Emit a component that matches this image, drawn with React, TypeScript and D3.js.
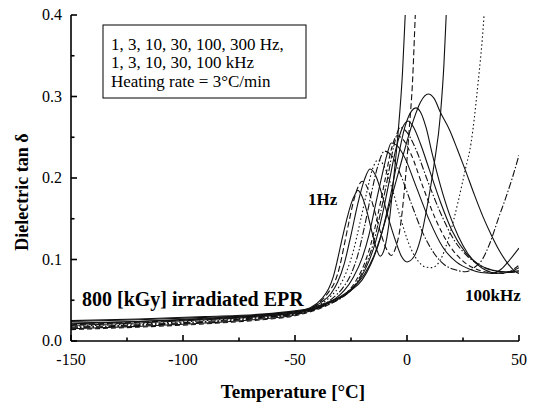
import React from "react";
import * as d3 from "d3";

// Loss tangent vs temperature, one curve per measuring frequency.
const FREQUENCIES = ["1 Hz", "3 Hz", "10 Hz", "30 Hz", "100 Hz", "300 Hz", "1 kHz", "3 kHz", "10 kHz", "30 kHz", "100 kHz"];

const X_TICKS = [-150, -100, -50, 0, 50];
const Y_TICKS = [0, 0.1, 0.2, 0.3, 0.4];

// [temperature °C, tan δ]
const tan1Hz: [number, number][] = [
  [-150, 0.024], [-120, 0.026], [-90, 0.029], [-65, 0.032], [-50, 0.036], [-43, 0.041], [-38, 0.052],
  [-35, 0.064], [-33, 0.078], [-31, 0.1], [-29, 0.125], [-27, 0.148], [-25, 0.168], [-23, 0.181],
  [-22, 0.185], [-20.5, 0.18], [-18, 0.16], [-15.5, 0.132], [-13.5, 0.112], [-12, 0.104], [-10, 0.114],
  [-8, 0.145], [-6, 0.198], [-4, 0.255], [-2, 0.33], [-0.8, 0.4], [0, 0.45],
];
const tan3Hz: [number, number][] = [
  [-150, 0.02], [-120, 0.023], [-90, 0.027], [-65, 0.031], [-50, 0.035], [-43, 0.04], [-38, 0.05],
  [-35, 0.06], [-32, 0.074], [-30, 0.092], [-28, 0.118], [-26, 0.145], [-24, 0.17], [-22, 0.188],
  [-20, 0.196], [-18, 0.19], [-15, 0.165], [-12, 0.135], [-9, 0.112], [-7, 0.105], [-5, 0.115],
  [-3, 0.14], [-1, 0.19], [1, 0.26], [2.5, 0.32], [3.7, 0.4], [4.5, 0.45],
];
const tan10Hz: [number, number][] = [
  [-150, 0.022], [-120, 0.024], [-90, 0.027], [-65, 0.031], [-50, 0.035], [-43, 0.04], [-38, 0.048],
  [-34, 0.058], [-31, 0.072], [-28, 0.095], [-25, 0.13], [-22, 0.168], [-19, 0.198], [-16.5, 0.211],
  [-14, 0.203], [-11, 0.178], [-8, 0.148], [-5, 0.122], [-2.5, 0.104], [0, 0.097], [3, 0.103],
  [6, 0.125], [9, 0.165], [12, 0.215], [15, 0.28], [16.5, 0.34], [17.5, 0.4], [18.3, 0.45],
];
const tan30Hz: [number, number][] = [
  [-150, 0.018], [-120, 0.021], [-90, 0.025], [-65, 0.03], [-50, 0.034], [-43, 0.039], [-38, 0.046],
  [-34, 0.055], [-30, 0.068], [-27, 0.085], [-24, 0.11], [-21, 0.145], [-18, 0.182], [-15.5, 0.21],
  [-13, 0.222], [-10.5, 0.216], [-7, 0.19], [-3, 0.152], [1, 0.118], [5, 0.098], [8, 0.091],
  [11, 0.09], [15, 0.1], [19, 0.13], [23, 0.173], [26, 0.21], [28.6, 0.243], [31.4, 0.308],
  [34.4, 0.4], [35.5, 0.45],
];
const tan100Hz: [number, number][] = [
  [-150, 0.016], [-120, 0.019], [-90, 0.023], [-65, 0.028], [-50, 0.033], [-43, 0.038], [-37, 0.045],
  [-33, 0.053], [-29, 0.064], [-25, 0.082], [-22, 0.105], [-19, 0.14], [-16, 0.18], [-13, 0.215],
  [-10, 0.233], [-7, 0.228], [-3, 0.205], [2, 0.168], [7, 0.133], [12, 0.108], [17, 0.093],
  [22, 0.087], [26, 0.085], [30, 0.09], [33.6, 0.1], [37, 0.12], [41, 0.152], [44, 0.175],
  [47, 0.2], [50, 0.228],
];
const tan300Hz: [number, number][] = [
  [-150, 0.015], [-120, 0.018], [-90, 0.022], [-65, 0.027], [-50, 0.032], [-43, 0.037], [-37, 0.044],
  [-32, 0.052], [-28, 0.062], [-24, 0.078], [-20, 0.102], [-17, 0.13], [-14, 0.168], [-11, 0.205],
  [-9, 0.228], [-7, 0.243], [-4.5, 0.24], [-1, 0.225], [4, 0.19], [10, 0.148], [16, 0.115],
  [22, 0.097], [28, 0.088], [33, 0.084], [38, 0.083], [42, 0.088], [46, 0.1], [50, 0.114],
];
const tan1kHz: [number, number][] = [
  [-150, 0.014], [-120, 0.017], [-90, 0.021], [-65, 0.026], [-50, 0.031], [-43, 0.036], [-37, 0.042],
  [-32, 0.049], [-27, 0.059], [-23, 0.073], [-19, 0.095], [-16, 0.12], [-13, 0.155], [-10, 0.195],
  [-7, 0.235], [-4.5, 0.252], [-2, 0.248], [2, 0.228], [7, 0.19], [13, 0.148], [19, 0.117],
  [25, 0.098], [31, 0.088], [37, 0.084], [43, 0.083], [47, 0.087], [50, 0.093],
];
const tan3kHz: [number, number][] = [
  [-150, 0.017], [-120, 0.02], [-90, 0.024], [-65, 0.029], [-50, 0.033], [-43, 0.037], [-37, 0.043],
  [-31, 0.05], [-26, 0.06], [-22, 0.074], [-18, 0.096], [-15, 0.12], [-12, 0.155], [-9, 0.195],
  [-6, 0.238], [-3, 0.262], [0, 0.256], [4, 0.235], [9, 0.198], [15, 0.157], [21, 0.124],
  [27, 0.104], [33, 0.092], [39, 0.086], [45, 0.084], [50, 0.085],
];
const tan10kHz: [number, number][] = [
  [-150, 0.019], [-120, 0.022], [-90, 0.026], [-65, 0.03], [-50, 0.034], [-43, 0.038], [-37, 0.044],
  [-31, 0.051], [-25, 0.062], [-21, 0.076], [-17, 0.098], [-14, 0.122], [-11, 0.155], [-8, 0.195],
  [-5, 0.235], [-2, 0.262], [0.5, 0.27], [3, 0.262], [6, 0.242], [10, 0.21], [15, 0.17],
  [20, 0.136], [26, 0.109], [32, 0.094], [38, 0.087], [44, 0.085], [50, 0.086],
];
const tan30kHz: [number, number][] = [
  [-150, 0.021], [-120, 0.024], [-90, 0.028], [-65, 0.032], [-50, 0.036], [-43, 0.039], [-37, 0.045],
  [-31, 0.052], [-25, 0.062], [-20, 0.075], [-16, 0.095], [-12, 0.125], [-8, 0.17], [-4, 0.225],
  [-1, 0.262], [2, 0.282], [4, 0.286], [6, 0.281], [8.5, 0.262], [11.4, 0.228], [15, 0.19],
  [19, 0.155], [23, 0.128], [27, 0.108], [31, 0.095], [35, 0.087], [40, 0.083], [45, 0.084], [50, 0.09],
];
const tan100kHz: [number, number][] = [
  [-150, 0.025], [-120, 0.027], [-90, 0.03], [-65, 0.033], [-50, 0.037], [-43, 0.04], [-37, 0.046],
  [-30, 0.054], [-24, 0.066], [-19, 0.082], [-15, 0.103], [-11, 0.135], [-7, 0.175], [-3.5, 0.21],
  [0, 0.245], [3, 0.272], [6, 0.293], [9.5, 0.303], [12, 0.298], [15, 0.28], [19, 0.259],
  [22.5, 0.235], [26, 0.21], [30, 0.18], [34, 0.152], [38, 0.128], [41, 0.112], [45, 0.095],
  [49, 0.084], [50, 0.083],
];

const SERIES = [tan1Hz, tan3Hz, tan10Hz, tan30Hz, tan100Hz, tan300Hz, tan1kHz, tan3kHz, tan10kHz, tan30kHz, tan100kHz];

// stroke-dasharray per curve
const DASHES = ["none", "6,3", "none", "1.5,2.5", "7,2,1.5,2", "none", "5,3", "7,2,1.5,2", "none", "none", "none"];

const W = 534;
const H = 408;
const M = { left: 71, right: 519, top: 15, bottom: 341 };
const SERIF = "'Liberation Serif', 'Times New Roman', Times, serif";

export default function App() {
  const x = d3.scaleLinear().domain([-150, 50]).range([M.left, M.right]);
  const y = d3.scaleLinear().domain([0, 0.4]).range([M.bottom, M.top]);
  const line = d3
    .line<[number, number]>()
    .x((d) => x(d[0]))
    .y((d) => y(d[1]))
    .curve(d3.curveMonotoneX);

  const xMinor = d3.range(-125, 50, 50);
  const yMinor = d3.range(0.05, 0.4, 0.1);

  return (
    <svg
      width={W}
      height={H}
      viewBox={`0 0 ${W} ${H}`}
      style={{ position: "absolute", left: 0, top: 0, background: "#fff" }}
      fontFamily={SERIF}
    >
      <defs>
        <clipPath id="plot">
          <rect x={M.left} y={M.top} width={M.right - M.left} height={M.bottom - M.top} />
        </clipPath>
      </defs>

      <g clipPath="url(#plot)" fill="none" stroke="#111" strokeWidth={1.1}>
        {SERIES.map((s, i) => (
          <path key={FREQUENCIES[i]} d={line(s) || ""} strokeDasharray={DASHES[i]} />
        ))}
      </g>

      {/* axes */}
      <g stroke="#000" strokeWidth={1.6} fill="none">
        <line x1={M.left} y1={M.top} x2={M.left} y2={M.bottom} />
        <line x1={M.left} y1={M.bottom} x2={M.right} y2={M.bottom} />
        {X_TICKS.map((t) => (
          <line key={"xt" + t} x1={x(t)} x2={x(t)} y1={M.bottom} y2={M.bottom - 6} />
        ))}
        {xMinor.map((t) => (
          <line key={"xm" + t} x1={x(t)} x2={x(t)} y1={M.bottom} y2={M.bottom - 3.5} />
        ))}
        {Y_TICKS.map((t) => (
          <line key={"yt" + t} x1={M.left} x2={M.left + 6} y1={y(t)} y2={y(t)} />
        ))}
        {yMinor.map((t) => (
          <line key={"ym" + t} x1={M.left} x2={M.left + 3.5} y1={y(t)} y2={y(t)} />
        ))}
      </g>

      <g fontSize={16} fill="#000">
        {X_TICKS.map((t) => (
          <text key={"xl" + t} x={x(t)} y={365} textAnchor="middle">
            {t}
          </text>
        ))}
        {Y_TICKS.map((t) => (
          <text key={"yl" + t} x={62} y={y(t) + 5} textAnchor="end">
            {t.toFixed(1)}
          </text>
        ))}
      </g>

      {/* axis titles */}
      <text x={293} y={398} textAnchor="middle" fontWeight="bold" fontSize={19}>
        Temperature [°C]
      </text>
      <text
        transform={`translate(28,192) rotate(-90)`}
        textAnchor="middle"
        fontWeight="bold"
        fontSize={18}
      >
        Dielectric tan δ
      </text>

      {/* legend box */}
      <rect x={103} y={25} width={203} height={73} fill="#fff" stroke="#000" strokeWidth={1} />
      <g fontSize={17}>
        <text x={111} y={50}>1, 3, 10, 30, 100, 300 Hz,</text>
        <text x={111} y={68}>1, 3, 10, 30, 100 kHz</text>
        <text x={111} y={87}>Heating rate = 3°C/min</text>
      </g>

      {/* annotations */}
      <text x={308} y={205} fontWeight="bold" fontSize={17}>1Hz</text>
      <text x={465} y={301} fontWeight="bold" fontSize={17}>100kHz</text>
      <text x={82} y={306} fontWeight="bold" fontSize={20}>800 [kGy] irradiated EPR</text>
    </svg>
  );
}
